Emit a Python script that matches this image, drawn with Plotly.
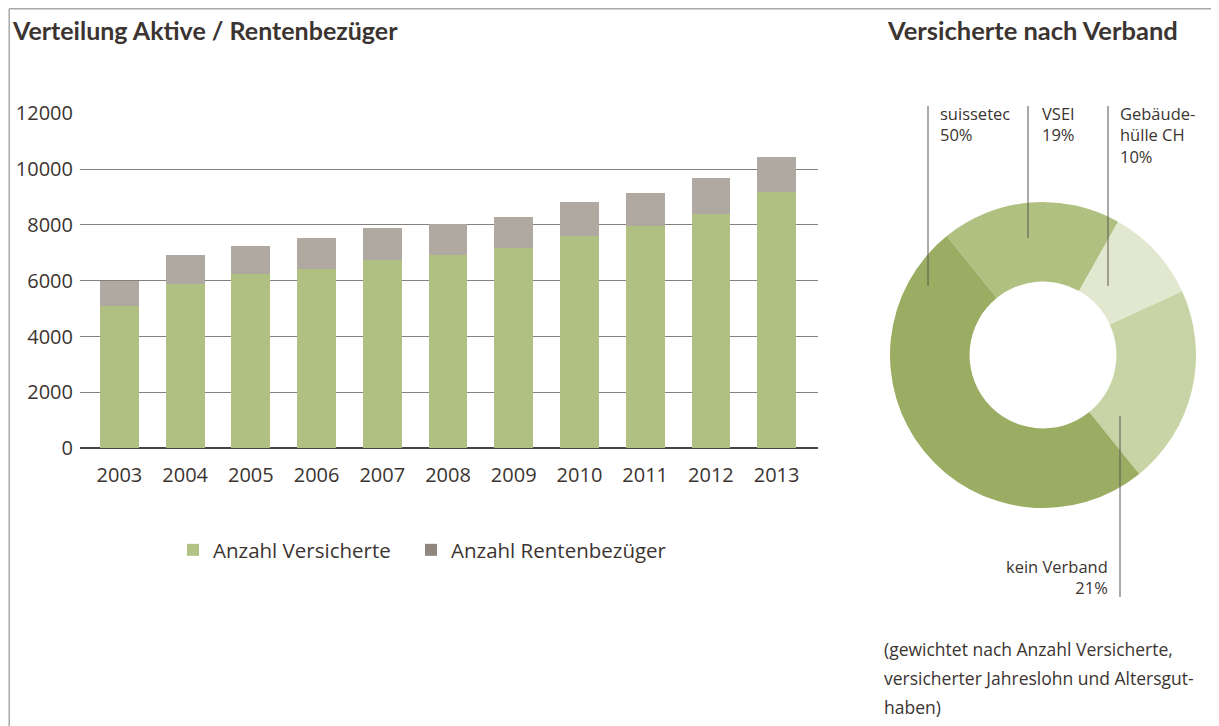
import plotly.graph_objects as go

# the page puts the figure 8px in from the top-left corner
OFF = 8
W, H = 1219 - OFF, 726 - OFF

# Data
years = ['2003', '2004', '2005', '2006', '2007', '2008', '2009', '2010', '2011', '2012', '2013']
versicherte = [5110, 5890, 6240, 6410, 6760, 6920, 7190, 7620, 7960, 8400, 9190]
rentner = [890, 1030, 1020, 1135, 1120, 1125, 1090, 1200, 1195, 1275, 1260]

verband = ['VSEI', 'Gebäudehülle CH', 'kein Verband', 'suissetec']
anteil = [19, 10, 21, 50]

GREEN = '#afc082'
GREY = '#b0a9a1'
TXT = '#3b3431'
FONT = 'Open Sans'


def px(x):
    return (x - OFF) / W


def py(y):
    return 1 - (y - OFF) / H


fig = go.Figure()

# stacked bars
fig.add_trace(go.Bar(x=years, y=versicherte, marker_color=GREEN, marker_line_width=0,
                     name='Anzahl Versicherte', showlegend=False))
fig.add_trace(go.Bar(x=years, y=rentner, marker_color=GREY, marker_line_width=0,
                     name='Anzahl Rentenbezüger', showlegend=False))

# legend entries (swatch colours of the original legend)
fig.add_trace(go.Bar(x=[None], y=[None], marker_color='#b1c385', marker_line_width=0,
                     name='Anzahl Versicherte'))
fig.add_trace(go.Bar(x=[None], y=[None], marker_color='#8f877e', marker_line_width=0,
                     name='Anzahl Rentenbezüger'))
# empty spacer so the last entry is not clipped by entrywidth
fig.add_trace(go.Bar(x=[None], y=[None], marker=dict(color='rgba(0,0,0,0)', line=dict(width=0)),
                     name='', hoverinfo='skip'))

# donut
fig.add_trace(go.Pie(labels=verband, values=anteil, hole=0.48, sort=False,
                     direction='clockwise', rotation=-39, textinfo='none',
                     marker=dict(colors=['#afc081', '#e2e8cf', '#c8d4a5', '#9bad63']),
                     domain=dict(x=[px(890), px(1196)], y=[py(508), py(202)]),
                     showlegend=False, hoverinfo='label+percent'))

fig.update_layout(
    width=W, height=H,
    margin=dict(l=0, r=0, t=0, b=0, pad=0, autoexpand=False),
    paper_bgcolor='white', plot_bgcolor='white',
    barmode='stack', bargap=0.41,
    font=dict(family=FONT, color=TXT, size=18),
    legend=dict(orientation='h', x=px(173), y=py(550), xanchor='left', yanchor='middle',
                traceorder='normal', font=dict(size=20.5), entrywidth=193, itemwidth=30),
    xaxis=dict(domain=[px(80), px(818)], range=[-0.6, 10.63], showgrid=False,
               ticks='', ticklabelstandoff=13, tickfont=dict(size=20), fixedrange=True,
               automargin=False),
    yaxis=dict(domain=[py(448.3), py(112.7)], range=[0, 12020], dtick=2000, tickformat='d',
               showgrid=True, gridcolor='#85807b', gridwidth=1,
               zeroline=True, zerolinecolor='#4a4440', zerolinewidth=1.5,
               ticks='', ticklabelstandoff=6, tickfont=dict(size=20), fixedrange=True,
               automargin=False),
)

# titles
fig.add_annotation(x=px(10), y=py(30), xref='paper', yref='paper', xanchor='left', yanchor='middle',
                   text='<b>Verteilung Aktive / Rentenbezüger</b>', showarrow=False,
                   font=dict(family='Lato', size=25, color=TXT))
fig.add_annotation(x=px(1180), y=py(30), xref='paper', yref='paper', xanchor='right', yanchor='middle',
                   text='<b>Versicherte nach Verband</b>', showarrow=False,
                   font=dict(family='Lato', size=25.5, color=TXT))

# donut labels with leader lines
labels = [
    (938, 100, 'left', 'top', 'suissetec<br>50%'),
    (1040, 100, 'left', 'top', 'VSEI<br>19%'),
    (1118, 100, 'left', 'top', 'Gebäude-<br>hülle CH<br>10%'),
    (1110, 601, 'right', 'bottom', 'kein Verband<br>21%'),
]
for x, y, xa, ya, t in labels:
    fig.add_annotation(x=px(x), y=py(y), xref='paper', yref='paper', xanchor=xa, yanchor=ya,
                       align=xa, text=t, showarrow=False, font=dict(size=16.5, color=TXT))

leaders = [(928, 106, 286), (1028, 106, 238), (1108, 106, 286), (1120, 416, 597)]
for x, y0, y1 in leaders:
    fig.add_shape(type='line', xref='paper', yref='paper', x0=px(x), x1=px(x), y0=py(y0), y1=py(y1),
                  line=dict(color='#5a5450', width=1))

# note below the donut
note = ['(gewichtet nach Anzahl Versicherte,', 'versicherter Jahreslohn und Altersgut-', 'haben)']
for i, line in enumerate(note):
    fig.add_annotation(x=px(882), y=py(649 + 29 * i), xref='paper', yref='paper', xanchor='left',
                       yanchor='middle', text=line, showarrow=False, font=dict(size=17.5, color=TXT))

# frame lines (as close to the corner as the page allows)
fig.add_shape(type='line', xref='paper', yref='paper', x0=0.001, x1=1, y0=0.999, y1=0.999,
              line=dict(color='#a8a8a8', width=1.5))
fig.add_shape(type='line', xref='paper', yref='paper', x0=0.001, x1=0.001, y0=0.999, y1=0,
              line=dict(color='#a8a8a8', width=1.5))

fig.write_html("out.html")
